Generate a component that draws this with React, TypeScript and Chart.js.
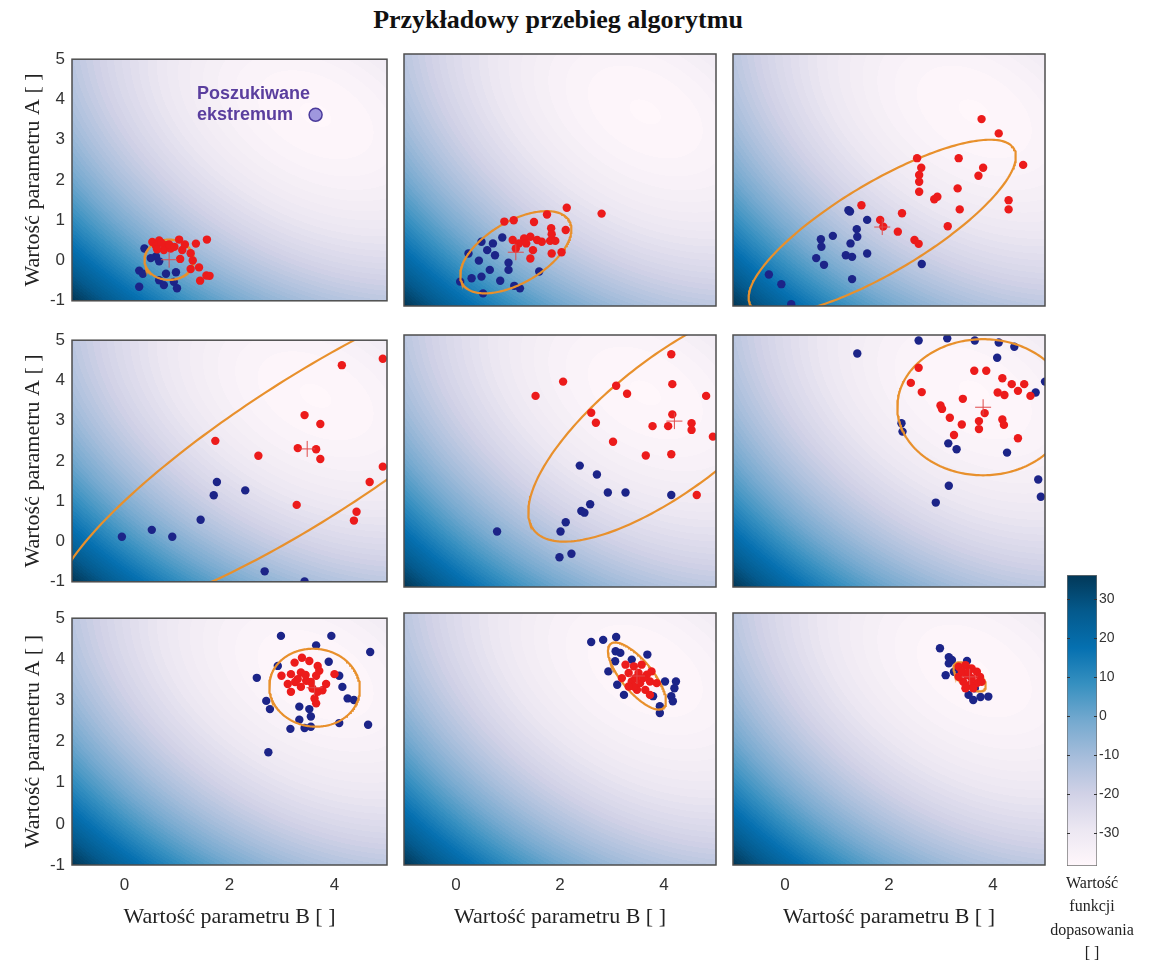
import React, { useEffect, useRef } from "react";
import { Chart, registerables } from "chart.js";

Chart.register(...registerables);

type Pt = [number, number];
type Ell = [number, number, number, number, number]; // cx, cy, a, b, angle(deg)

// ---------- texts ----------
const TITLE = "Przykładowy przebieg algorytmu";
const X_LABEL = "Wartość parametru B [ ]";
const Y_LABEL = "Wartość parametru A [ ]";
const CB_LABEL = ["Wartość", "funkcji", "dopasowania", "[ ]"];
const ANNOTATION_LINES = ["Poszukiwane", "ekstremum"];
const ANNOTATION_ANCHORS: Pt[] = [[1.38, 4.14], [1.38, 3.62]];
const EXTREMUM: Pt[] = [[3.64, 3.62]];

// ---------- axes ----------
const X_RANGE: Pt = [-1, 5];
const Y_RANGE: Pt = [-1, 5];
const X_TICKS = [0, 2, 4];
const Y_TICKS = [-1, 0, 1, 2, 3, 4, 5];
const CB_RANGE: Pt = [-38.5, 36.2];
const CB_TICKS = [-30, -20, -10, 0, 10, 20, 30];

// ---------- fitness landscape (background) ----------
const FIT_MIN = -38;
const FIT_CENTER: Pt = [3.64, 3.62];
const FIT_DIAG = 1.75; // curvature along the x=y diagonal
const FIT_ANTI = 0.75; // curvature across the diagonal
const COLORMAP = ["#fff7fb", "#ece7f2", "#d0d1e6", "#a6bddb", "#74a9cf", "#3690c0", "#0570b0", "#045a8d", "#023858"];
const COLOR_BEYOND = "#03182a";
const COLOR_LEVELS = 64;

// ---------- samples per iteration ----------
const P1_RED: Pt[] = [[0.53,0.46],[0.66,0.5],[0.79,0.38],[0.75,0.26],[0.88,0.3],[1.04,0.52],[1.1,0.26],[1.26,0.18],[1.36,0.42],[1.57,0.52],[1.06,0.04],[1.26,-0.21],[1.42,-0.17],[1.56,-0.37],[1.44,-0.5],[0.6,0.36],[0.85,0.4],[0.7,0.44],[0.95,0.34],[0.62,0.28],[1.15,0.4],[1.62,-0.38],[1.3,0.0]];
const P1_BLUE: Pt[] = [[0.38,0.3],[0.6,0.1],[0.5,0.06],[0.66,-0.02],[0.28,-0.25],[0.35,-0.33],[0.79,-0.33],[0.98,-0.29],[0.66,-0.49],[0.75,-0.61],[0.94,-0.53],[0.28,-0.65],[1.0,-0.69]];
const P1_ELLIPSE: Ell = [0.85, 0.02, 0.47, 0.5, 0];

const P2_RED: Pt[] = [[2.13,1.34],[2.8,1.2],[0.93,1.01],[1.11,1.04],[1.5,1.0],[1.75,1.18],[1.83,0.85],[2.11,0.81],[1.84,0.71],[1.09,0.57],[1.21,0.49],[1.31,0.61],[1.43,0.65],[1.56,0.57],[1.65,0.53],[1.81,0.55],[1.91,0.55],[1.15,0.37],[1.48,0.33],[1.43,0.13],[1.84,0.25],[2.03,0.28],[1.35,0.49]];
const P2_BLUE: Pt[] = [[0.49,0.53],[0.71,0.49],[0.89,0.63],[0.6,0.33],[0.75,0.21],[0.44,0.08],[1.01,0.03],[1.01,-0.14],[0.65,-0.14],[0.49,-0.3],[0.3,-0.34],[0.08,-0.42],[0.85,-0.4],[1.12,-0.52],[1.23,-0.58],[1.6,-0.18],[0.52,-0.7],[0.24,0.25]];
const P2_ELLIPSE: Ell = [1.15, 0.28, 1.28, 0.68, 40.5];

const P3_RED: Pt[] = [[3.78,3.45],[4.11,3.11],[4.58,2.36],[3.34,2.52],[3.81,2.29],[3.72,2.1],[2.54,2.52],[2.62,2.29],[2.58,2.12],[2.58,1.96],[2.58,1.72],[3.32,1.8],[2.87,1.54],[2.93,1.6],[3.36,1.3],[4.3,1.52],[4.3,1.3],[3.13,0.9],[2.25,1.21],[1.83,1.05],[1.89,0.89],[2.17,0.77],[2.49,0.57],[2.57,0.48],[1.47,1.4]];
const P3_BLUE: Pt[] = [[1.25,1.25],[1.58,1.05],[1.38,0.83],[1.39,0.65],[0.92,0.67],[0.69,0.59],[0.7,0.41],[1.26,0.49],[0.6,0.14],[0.75,-0.02],[1.17,0.21],[1.29,0.17],[1.58,0.25],[2.63,0.0],[1.29,-0.36],[-0.31,-0.25],[-0.07,-0.48],[0.12,-0.96],[1.22,1.28]];
const P3_ELLIPSE: Ell = [1.87, 0.88, 3.15, 1.0, 37.6];

const P4_RED: Pt[] = [[4.14,4.38],[4.92,4.54],[3.43,3.14],[3.73,2.92],[1.73,2.5],[3.3,2.32],[3.65,2.29],[3.73,2.05],[2.55,2.13],[4.92,1.86],[4.67,1.48],[3.28,0.91],[4.42,0.74],[4.37,0.52]];
const P4_BLUE: Pt[] = [[1.76,1.48],[1.7,1.15],[2.3,1.27],[1.45,0.54],[0.52,0.29],[-0.05,0.12],[0.91,0.12],[2.67,-0.74],[3.43,-0.99]];
const P4_ELLIPSE: Ell = [3.48, 2.3, 6.2, 1.58, 41];

const P5_RED: Pt[] = [[4.14,4.54],[2.06,3.89],[1.53,3.55],[3.08,3.79],[3.29,3.6],[4.16,3.83],[4.81,3.55],[2.6,3.15],[2.69,2.91],[4.16,3.11],[3.78,2.83],[4.08,2.83],[4.53,2.9],[4.53,2.74],[4.94,2.58],[3.02,2.46],[3.65,2.13],[4.14,2.16],[4.63,1.19]];
const P5_BLUE: Pt[] = [[2.38,1.89],[2.71,1.68],[2.92,1.25],[3.26,1.25],[4.14,1.19],[2.58,0.97],[2.41,0.81],[2.47,0.77],[2.11,0.54],[2.01,0.32],[0.79,0.32],[2.22,-0.21],[1.99,-0.29]];
const P5_ELLIPSE: Ell = [4.2, 2.95, 3.76, 1.41, 45.8];

const P6_RED: Pt[] = [[2.57,4.22],[2.42,3.86],[2.63,3.64],[3.64,4.15],[3.87,4.15],[4.18,3.97],[4.36,3.83],[4.6,3.83],[4.48,3.67],[4.72,3.55],[4.09,3.63],[4.22,3.57],[3.42,3.48],[2.99,3.32],[3.02,3.24],[3.17,3.03],[3.4,2.87],[3.73,2.95],[3.84,3.14],[3.73,2.76],[4.18,2.99],[4.21,2.86],[3.25,2.62],[4.48,2.54]];
const P6_BLUE: Pt[] = [[1.39,4.56],[2.57,4.87],[3.12,4.92],[3.65,4.87],[4.11,4.82],[4.41,4.72],[4.08,4.46],[5.0,3.89],[4.82,3.63],[2.24,2.9],[2.26,2.7],[3.14,2.42],[3.3,2.28],[4.27,2.2],[4.87,1.56],[4.92,1.15],[3.15,1.41],[2.9,1.01]];
const P6_ELLIPSE: Ell = [3.81, 3.28, 1.65, 1.62, 0];

const P7_RED: Pt[] = [[3.24,3.92],[3.38,4.04],[3.52,3.96],[3.68,3.84],[3.71,3.72],[3.17,3.64],[3.36,3.68],[2.99,3.6],[3.3,3.52],[3.46,3.48],[3.65,3.6],[3.84,3.4],[4.0,3.64],[3.11,3.4],[3.17,3.21],[3.36,3.33],[3.58,3.29],[3.68,3.21],[3.62,3.05],[3.77,3.25],[3.65,2.93],[3.45,3.62],[3.25,3.45],[3.55,3.45]];
const P7_BLUE: Pt[] = [[2.98,4.57],[3.94,4.57],[3.65,4.34],[4.68,4.18],[2.92,3.84],[3.89,3.94],[2.52,3.55],[4.09,3.6],[4.15,3.33],[4.25,3.05],[4.37,3.01],[2.7,2.99],[2.77,2.79],[3.33,2.85],[3.52,2.79],[3.55,2.61],[3.33,2.53],[3.16,2.31],[3.43,2.33],[3.55,2.36],[4.09,2.45],[4.64,2.41],[2.74,1.74]];
const P7_ELLIPSE: Ell = [3.62, 3.31, 0.95, 0.86, 100];

const P8_RED: Pt[] = [[3.26,3.77],[3.42,3.73],[3.57,3.77],[3.32,3.57],[3.51,3.57],[3.67,3.53],[3.38,3.37],[3.54,3.33],[3.73,3.37],[3.86,3.33],[3.48,3.17],[3.64,3.17],[3.73,3.05],[3.42,3.25],[3.19,3.45],[3.76,3.61],[3.32,3.25],[3.45,3.45],[3.6,3.45]];
const P8_BLUE: Pt[] = [[2.6,4.31],[2.83,4.36],[3.08,4.43],[3.07,4.09],[3.16,4.05],[3.06,3.85],[2.93,3.61],[3.1,3.29],[3.23,3.05],[3.38,3.89],[3.68,4.01],[4.02,3.37],[4.23,3.37],[4.2,3.21],[4.14,3.02],[4.17,2.9],[3.79,3.02],[3.92,2.78],[3.92,2.62]];
const P8_ELLIPSE: Ell = [3.48, 3.5, 0.92, 0.32, -58];

const P9_RED: Pt[] = [[3.34,3.72],[3.47,3.76],[3.59,3.68],[3.69,3.6],[3.75,3.48],[3.69,3.33],[3.56,3.29],[3.43,3.36],[3.34,3.48],[3.5,3.52],[3.59,3.45],[3.4,3.6],[3.53,3.6],[3.78,3.36],[3.62,3.21],[3.47,3.21]];
const P9_BLUE: Pt[] = [[2.98,4.16],[3.15,3.95],[3.21,3.88],[3.15,3.8],[3.09,3.52],[3.25,3.6],[3.5,3.86],[3.65,3.21],[3.53,3.05],[3.62,2.93],[3.91,3.01],[3.76,3.0]];
const P9_ELLIPSE: Ell = [3.55, 3.48, 0.42, 0.2, -50];

const PANELS = [
  { red: P1_RED, blue: P1_BLUE, ellipse: P1_ELLIPSE, annotate: true },
  { red: P2_RED, blue: P2_BLUE, ellipse: P2_ELLIPSE, annotate: false },
  { red: P3_RED, blue: P3_BLUE, ellipse: P3_ELLIPSE, annotate: false },
  { red: P4_RED, blue: P4_BLUE, ellipse: P4_ELLIPSE, annotate: false },
  { red: P5_RED, blue: P5_BLUE, ellipse: P5_ELLIPSE, annotate: false },
  { red: P6_RED, blue: P6_BLUE, ellipse: P6_ELLIPSE, annotate: false },
  { red: P7_RED, blue: P7_BLUE, ellipse: P7_ELLIPSE, annotate: false },
  { red: P8_RED, blue: P8_BLUE, ellipse: P8_ELLIPSE, annotate: false },
  { red: P9_RED, blue: P9_BLUE, ellipse: P9_ELLIPSE, annotate: false },
];

// ---------- layout (page pixels) ----------
const COL_LEFT = [72, 401, 730];
const ROW_TOP = [54, 335, 613];
const PLOT_W = 318;
const PLOT_H = 252;
const Y_AXIS_W = 72;
const X_AXIS_H = 70;
const PAD = 12;
const SIDE_PAD = 6;

const SERIF = '"Liberation Serif", "Times New Roman", serif';
const SANS = '"Liberation Sans", Arial, sans-serif';
Chart.defaults.font.family = SANS;

const RED = "#ec1b1b";
const BLUE = "#1c2488";
const ORANGE = "#e8902c";

function hexToRgb(h: string): number[] {
  return [parseInt(h.slice(1, 3), 16), parseInt(h.slice(3, 5), 16), parseInt(h.slice(5, 7), 16)];
}
const CMAP_RGB = COLORMAP.map(hexToRgb);
const BEYOND_RGB = hexToRgb(COLOR_BEYOND);

function mix(a: number[], b: number[], f: number): number[] {
  return [a[0] + (b[0] - a[0]) * f, a[1] + (b[1] - a[1]) * f, a[2] + (b[2] - a[2]) * f];
}

function colorFor(v: number): number[] {
  const span = CB_RANGE[1] - CB_RANGE[0];
  if (v > CB_RANGE[1]) {
    const over = Math.min(1, (v - CB_RANGE[1]) / 25);
    return mix(CMAP_RGB[CMAP_RGB.length - 1], BEYOND_RGB, Math.round(over * 12) / 12);
  }
  let t = (v - CB_RANGE[0]) / span;
  t = Math.max(0, Math.min(1, t));
  t = Math.round(t * (COLOR_LEVELS - 1)) / (COLOR_LEVELS - 1);
  const p = t * (CMAP_RGB.length - 1);
  const i = Math.min(CMAP_RGB.length - 2, Math.floor(p));
  return mix(CMAP_RGB[i], CMAP_RGB[i + 1], p - i);
}

function fitness(x: number, y: number): number {
  const dx = x - FIT_CENTER[0];
  const dy = y - FIT_CENTER[1];
  const u = (dx + dy) / Math.SQRT2;
  const v = (dx - dy) / Math.SQRT2;
  return FIT_MIN + FIT_DIAG * u * u + FIT_ANTI * v * v;
}

function ellipsePoints(e: Ell) {
  const [cx, cy, a, b, ang] = e;
  const th = (ang * Math.PI) / 180;
  const pts: { x: number; y: number }[] = [];
  const n = 240;
  for (let k = 0; k <= n; k++) {
    const t = (k / n) * 2 * Math.PI;
    const u = a * Math.cos(t);
    const v = b * Math.sin(t);
    pts.push({ x: cx + u * Math.cos(th) - v * Math.sin(th), y: cy + u * Math.sin(th) + v * Math.cos(th) });
  }
  return pts;
}

const toXY = (arr: Pt[]) => arr.map(([x, y]) => ({ x, y }));

const landscapePlugin = {
  id: "landscape",
  beforeDatasetsDraw(chart: any) {
    const { ctx, chartArea, scales } = chart;
    const left = Math.round(chartArea.left);
    const top = Math.round(chartArea.top);
    const w = Math.round(chartArea.right) - left;
    const h = Math.round(chartArea.bottom) - top;
    const off = document.createElement("canvas");
    off.width = w;
    off.height = h;
    const octx = off.getContext("2d")!;
    const img = octx.createImageData(w, h);
    for (let j = 0; j < h; j++) {
      const yv = scales.y.getValueForPixel(top + j + 0.5);
      for (let i = 0; i < w; i++) {
        const xv = scales.x.getValueForPixel(left + i + 0.5);
        const c = colorFor(fitness(xv, yv));
        const k = (j * w + i) * 4;
        img.data[k] = c[0];
        img.data[k + 1] = c[1];
        img.data[k + 2] = c[2];
        img.data[k + 3] = 255;
      }
    }
    octx.putImageData(img, 0, 0);
    ctx.save();
    ctx.drawImage(off, left, top);
    ctx.restore();
  },
};

const framePlugin = {
  id: "frame",
  afterDatasetsDraw(chart: any) {
    const { ctx, chartArea } = chart;
    ctx.save();
    ctx.strokeStyle = "#4e4e4e";
    ctx.lineWidth = 1.5;
    ctx.strokeRect(chartArea.left, chartArea.top, chartArea.right - chartArea.left, chartArea.bottom - chartArea.top);
    ctx.restore();
  },
};

const annotationPlugin = {
  id: "annotationText",
  afterDatasetsDraw(chart: any, _args: any, opts: any) {
    if (!opts || !opts.lines) return;
    const { ctx, scales } = chart;
    ctx.save();
    ctx.font = `bold 18px ${SANS}`;
    ctx.fillStyle = "#5a3e9e";
    ctx.textAlign = "left";
    ctx.textBaseline = "middle";
    opts.lines.forEach((line: string, i: number) => {
      const [x, y] = opts.anchors[i];
      ctx.fillText(line, scales.x.getPixelForValue(x), scales.y.getPixelForValue(y));
    });
    ctx.restore();
  },
};

const colorbarTicksPlugin = {
  id: "cbTicks",
  afterDatasetsDraw(chart: any) {
    const { ctx, chartArea, scales } = chart;
    ctx.save();
    ctx.strokeStyle = "#333";
    ctx.lineWidth = 1;
    CB_TICKS.forEach((v) => {
      const y = Math.round(scales.y.getPixelForValue(v)) + 0.5;
      ctx.beginPath();
      ctx.moveTo(chartArea.left, y);
      ctx.lineTo(chartArea.left + 3, y);
      ctx.moveTo(chartArea.right - 3, y);
      ctx.lineTo(chartArea.right, y);
      ctx.stroke();
    });
    ctx.restore();
  },
};

function panelGeom(r: number, c: number) {
  const isLeft = c === 0;
  const isBottom = r === 2;
  const left = isLeft ? COL_LEFT[c] - Y_AXIS_W : COL_LEFT[c] - SIDE_PAD;
  const top = ROW_TOP[r] - PAD;
  const width = (isLeft ? Y_AXIS_W : SIDE_PAD) + PLOT_W + SIDE_PAD;
  const height = PAD + PLOT_H + (isBottom ? X_AXIS_H : PAD);
  return { left, top, width, height, isLeft, isBottom };
}

function panelConfig(idx: number) {
  const r = Math.floor(idx / 3);
  const c = idx % 3;
  const g = panelGeom(r, c);
  const p = PANELS[idx];
  const e = p.ellipse;
  const datasets: any[] = [];
  if (p.annotate) {
    datasets.push({
      data: toXY(EXTREMUM),
      pointRadius: 6.5,
      backgroundColor: "#9f97de",
      borderColor: "#4b3b9b",
      borderWidth: 1.5,
    });
  }
  datasets.push(
    {
      data: [{ x: e[0], y: e[1] }],
      pointStyle: "cross",
      pointRadius: 8,
      borderColor: "#e04a4a",
      backgroundColor: "#e04a4a",
      borderWidth: 1,
    },
    { data: toXY(p.red), pointRadius: 4.2, backgroundColor: RED, borderWidth: 0 },
    {
      data: ellipsePoints(e),
      showLine: true,
      pointRadius: 0,
      borderColor: ORANGE,
      borderWidth: 2.2,
      fill: false,
      tension: 0,
    },
    { data: toXY(p.blue), pointRadius: 4.2, backgroundColor: BLUE, borderWidth: 0 }
  );
  return {
    type: "scatter",
    data: { datasets },
    options: {
      responsive: false,
      maintainAspectRatio: false,
      animation: false,
      events: [],
      layout: {
        padding: {
          top: PAD,
          bottom: g.isBottom ? 0 : PAD,
          left: g.isLeft ? 0 : SIDE_PAD,
          right: SIDE_PAD,
        },
      },
      plugins: {
        legend: { display: false },
        tooltip: { enabled: false },
        annotationText: p.annotate ? { lines: ANNOTATION_LINES, anchors: ANNOTATION_ANCHORS } : {},
      },
      scales: {
        x: {
          type: "linear",
          min: X_RANGE[0],
          max: X_RANGE[1],
          display: g.isBottom,
          afterBuildTicks: (s: any) => {
            s.ticks = X_TICKS.map((v) => ({ value: v }));
          },
          afterFit: (s: any) => {
            if (g.isBottom) s.height = X_AXIS_H;
          },
          grid: { display: false, drawTicks: false },
          border: { display: false },
          ticks: { padding: 10, font: { size: 17, family: SANS }, color: "#333" },
          title: {
            display: true,
            text: X_LABEL,
            font: { family: SERIF, size: 22 },
            color: "#222",
            padding: { top: 0, bottom: 5 },
          },
        },
        y: {
          type: "linear",
          min: Y_RANGE[0],
          max: Y_RANGE[1],
          display: g.isLeft,
          afterBuildTicks: (s: any) => {
            s.ticks = Y_TICKS.map((v) => ({ value: v }));
          },
          afterFit: (s: any) => {
            if (g.isLeft) s.width = Y_AXIS_W;
          },
          grid: { display: false, drawTicks: false },
          border: { display: false },
          ticks: { padding: 7, font: { size: 17, family: SANS }, color: "#333" },
          title: {
            display: true,
            text: Y_LABEL,
            font: { family: SERIF, size: 22 },
            color: "#222",
            padding: { top: 20, bottom: 0 },
          },
        },
      },
    },
    plugins: [landscapePlugin, framePlugin, annotationPlugin],
  };
}

// colorbar geometry
const CB_CANVAS = { left: 1040, top: 560, width: 121, height: 306 + 12 };
const CB_PAD = { top: 15, left: 27, right: 4, bottom: 12 };
const CB_AXIS_W = 60;
const CB_LABEL_BOX = { left: 1032, top: 871, width: 120, lineHeight: 23.3 };

function colorbarConfig() {
  return {
    type: "bar",
    data: {
      labels: [""],
      datasets: [
        {
          data: [CB_RANGE],
          barPercentage: 1,
          categoryPercentage: 1,
          borderColor: "#707070",
          borderWidth: 1,
          borderSkipped: false,
          backgroundColor: (context: any) => {
            const chart = context.chart;
            const { ctx, chartArea, scales } = chart;
            if (!chartArea || !scales.y) return COLORMAP[4];
            const y0 = scales.y.getPixelForValue(CB_RANGE[0]);
            const y1 = scales.y.getPixelForValue(CB_RANGE[1]);
            const grad = ctx.createLinearGradient(0, y0, 0, y1);
            COLORMAP.forEach((col, i) => grad.addColorStop(i / (COLORMAP.length - 1), col));
            return grad;
          },
        },
      ],
    },
    options: {
      responsive: false,
      maintainAspectRatio: false,
      animation: false,
      events: [],
      layout: { padding: CB_PAD },
      plugins: { legend: { display: false }, tooltip: { enabled: false } },
      scales: {
        x: { display: false },
        y: {
          position: "right",
          min: CB_RANGE[0],
          max: CB_RANGE[1],
          afterBuildTicks: (s: any) => {
            s.ticks = CB_TICKS.map((v) => ({ value: v }));
          },
          afterFit: (s: any) => {
            s.width = CB_AXIS_W;
          },
          grid: { display: false, drawTicks: false },
          border: { display: false },
          ticks: { padding: 2, font: { size: 14, family: SANS }, color: "#333" },
        },
      },
    },
    plugins: [colorbarTicksPlugin],
  };
}

export default function App() {
  const refs = useRef<(HTMLCanvasElement | null)[]>([]);
  const cbRef = useRef<HTMLCanvasElement | null>(null);

  useEffect(() => {
    const charts: Chart[] = [];
    PANELS.forEach((_, i) => {
      const cv = refs.current[i];
      if (cv) charts.push(new Chart(cv, panelConfig(i) as any));
    });
    if (cbRef.current) charts.push(new Chart(cbRef.current, colorbarConfig() as any));
    return () => charts.forEach((ch) => ch.destroy());
  }, []);

  return (
    <div
      style={{
        position: "absolute",
        left: 0,
        top: 0,
        width: 1161,
        height: 965,
        overflow: "hidden",
        background: "#ffffff",
      }}
    >
      <div
        style={{
          position: "absolute",
          left: 0,
          top: 6,
          width: 1116,
          textAlign: "center",
          fontFamily: SERIF,
          fontWeight: "bold",
          fontSize: 26,
          lineHeight: "28px",
          color: "#111",
        }}
      >
        {TITLE}
      </div>
      {PANELS.map((_, i) => {
        const g = panelGeom(Math.floor(i / 3), i % 3);
        return (
          <canvas
            key={i}
            ref={(el) => {
              refs.current[i] = el;
            }}
            width={g.width}
            height={g.height}
            style={{ position: "absolute", left: g.left, top: g.top, width: g.width, height: g.height, display: "block" }}
          />
        );
      })}
      <canvas
        ref={cbRef}
        width={CB_CANVAS.width}
        height={CB_CANVAS.height}
        style={{
          position: "absolute",
          left: CB_CANVAS.left,
          top: CB_CANVAS.top,
          width: CB_CANVAS.width,
          height: CB_CANVAS.height,
          display: "block",
        }}
      />
      <div
        style={{
          position: "absolute",
          left: CB_LABEL_BOX.left,
          top: CB_LABEL_BOX.top,
          width: CB_LABEL_BOX.width,
          textAlign: "center",
          fontFamily: SERIF,
          fontSize: 16,
          lineHeight: `${CB_LABEL_BOX.lineHeight}px`,
          color: "#222",
        }}
      >
        {CB_LABEL.map((line, i) => (
          <div key={i}>{line}</div>
        ))}
      </div>
    </div>
  );
}
